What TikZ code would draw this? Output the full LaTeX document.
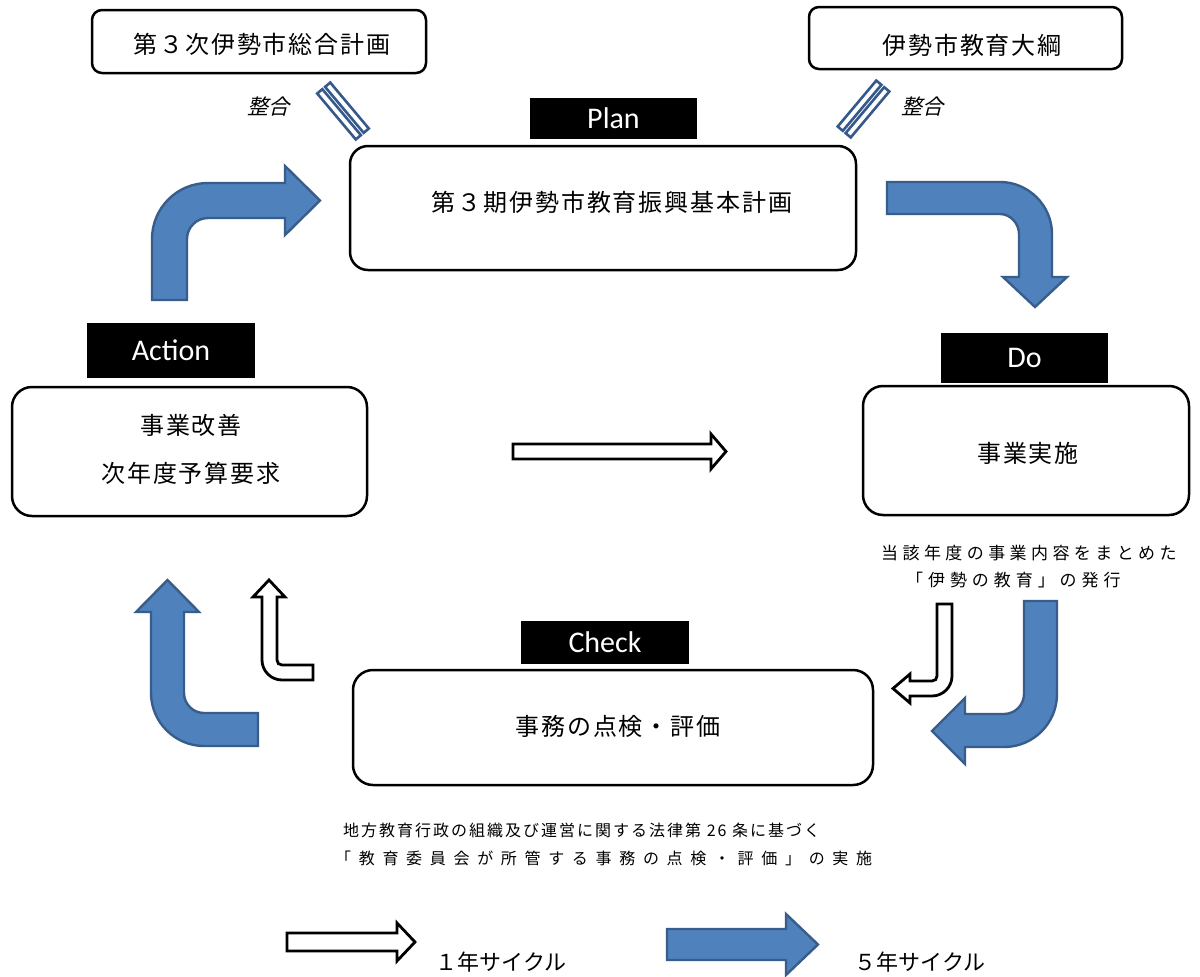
\documentclass[tikz,border=0pt]{standalone}
\usepackage{fontspec}
\newfontfamily\jp{Noto Sans CJK JP}
\newfontfamily\jpit{Noto Sans CJK JP}[FakeSlant=0.25]
\newfontfamily\lat{Carlito}
\definecolor{bfill}{HTML}{4F81BD}
\definecolor{bline}{HTML}{385D8A}
\definecolor{mline}{HTML}{34598A}
\begin{document}
\begin{tikzpicture}[x=1pt,y=-1pt,
  box/.style={draw=black, line width=2.5pt, fill=white, inner sep=0pt},
  lab/.style={fill=black, text=white, inner sep=0pt, font=\lat\fontsize{30}{30}\selectfont},
  jpt/.style={inner sep=0pt, align=center, font=\jp\addfontfeature{LetterSpace=8}\fontsize{24}{48}\selectfont},
  bluearrow/.style={fill=bfill, draw=bline, line width=2.4pt},
  whitearrow/.style={fill=white, draw=black, line width=2.8pt},
  bar/.style={fill=white, draw=mline, line width=2.6pt}]
\fill[white] (0,0) rectangle (1200,977);
\useasboundingbox (0,0) rectangle (1200,977);

% boxes
\node[box, rounded corners=10pt, minimum width=334pt, minimum height=63pt] (sogo) at (259,41.5) {};
\node[box, rounded corners=10pt, minimum width=313pt, minimum height=62pt] (taiko) at (965.5,38) {};
\node[box, rounded corners=18pt, minimum width=506pt, minimum height=124pt] (plan) at (603,208) {};
\node[box, rounded corners=20pt, minimum width=355pt, minimum height=129pt] (action) at (189.5,451.5) {};
\node[box, rounded corners=20pt, minimum width=326pt, minimum height=129pt] (do) at (1026,450.5) {};
\node[box, rounded corners=20pt, minimum width=520pt, minimum height=115pt] (check) at (613,727.5) {};

% black labels
\node[lab, minimum width=167pt, minimum height=41pt] (planL) at (613.5,118.5) {Plan};
\node[lab, minimum width=168pt, minimum height=55pt] (actionL) at (171,350.5) {Action};
\node[lab, minimum width=167pt, minimum height=50pt] (doL) at (1024.5,358) {Do};
\node[lab, minimum width=168pt, minimum height=43pt] (checkL) at (605,642.5) {Check};

% box texts
\node[jpt] (sogoT) at (262,44) {第３次伊勢市総合計画};
\node[jpt] (taikoT) at (972,45) {伊勢市教育大綱};
\node[jpt] (planT) at (612,202) {第３期伊勢市教育振興基本計画};
\node[jpt] (actionT) at (191,449) {事業改善\\次年度予算要求};
\node[jpt] (doT) at (1028,453) {事業実施};
\node[jpt] (checkT) at (618,726) {事務の点検・評価};

% alignment markers
\begin{scope}[shift={(343,111)}, rotate=-50]
  \draw[bar] (-30,-8.5) rectangle (30,-1.8);
  \draw[bar] (-30,1.8) rectangle (30,8.5);
\end{scope}
\begin{scope}[shift={(863.5,109)}, rotate=50]
  \draw[bar] (-30,-8.5) rectangle (30,-1.8);
  \draw[bar] (-30,1.8) rectangle (30,8.5);
\end{scope}
\node[inner sep=0pt, font=\jpit\fontsize{21}{21}\selectfont] (seigoL) at (268,107) {整合};
\node[inner sep=0pt, font=\jpit\fontsize{21}{21}\selectfont] (seigoR) at (922,107) {整合};

% blue 5-year arrows
\draw[bluearrow] (152,300) -- (152,239) .. controls (152,208) and (177,183) .. (208,183) -- (285,183) -- (285,166) -- (320,200.5) -- (285,235) -- (285,218) -- (208,218) .. controls (196.4,218) and (187,227.4) .. (187,239) -- (187,300) -- cycle;
\draw[bluearrow] (887,182) -- (1000,182) .. controls (1028.5,182) and (1052,205.5) .. (1052,234) -- (1052,277) -- (1067,277) -- (1035,307) -- (1003,277) -- (1019,277) -- (1019,234) .. controls (1019,223.5) and (1010.5,214) .. (1000,214) -- (887,214) -- cycle;
\draw[bluearrow] (1024,601) -- (1057,601) -- (1057,694) .. controls (1057,723.3) and (1033.3,747) .. (1004,747) -- (965,747) -- (965,764) -- (932,731) -- (965,698) -- (965,714) -- (1004,714) .. controls (1015,714) and (1024,705) .. (1024,694) -- cycle;
\draw[bluearrow] (258,713) -- (204,713) .. controls (193,713) and (184,704) .. (184,693) -- (184,612) -- (199,612) -- (167.5,580) -- (136,612) -- (151,612) -- (151,693) .. controls (151,722) and (175,746) .. (204,746) -- (258,746) -- cycle;

% white 1-year arrows
\draw[whitearrow] (513,444) -- (711,444) -- (711,434) -- (726,451.5) -- (711,469) -- (711,459) -- (513,459) -- cycle;
\draw[whitearrow] (937,604) -- (952,604) -- (952,676) .. controls (952,687) and (943,696) .. (932,696) -- (910,696) -- (910,703) -- (893,688.5) -- (910,674) -- (910,681) -- (932,681) .. controls (935,681) and (937,679) .. (937,676) -- cycle;
\draw[whitearrow] (313,665) -- (282,665) .. controls (279,665) and (277,663) .. (277,660) -- (277,597) -- (285,597) -- (269,580) -- (253,597) -- (262,597) -- (262,660) .. controls (262,671) and (271,680) .. (282,680) -- (313,680) -- cycle;

% annotations
\node[anchor=west, inner sep=0pt, font=\jp\addfontfeature{LetterSpace=26}\fontsize{17}{17}\selectfont] (hakko1) at (881,553) {当該年度の事業内容をまとめた};
\node[anchor=west, inner sep=0pt, font=\jp\addfontfeature{LetterSpace=29}\fontsize{17}{17}\selectfont] (hakko2) at (906,580) {「伊勢の教育」の発行};
\node[anchor=west, inner sep=0pt, font=\jp\addfontfeature{LetterSpace=12.5}\fontsize{16}{16}\selectfont] (hou1) at (343,830) {地方教育行政の組織及び運営に関する法律第 26 条に基づく};
\node[anchor=west, inner sep=0pt, font=\jp\addfontfeature{LetterSpace=48}\fontsize{16}{16}\selectfont] (hou2) at (335,858) {「教育委員会が所管する事務の点検・評価」の実施};

% legend
\draw[whitearrow] (287,933) -- (397,933) -- (397,923) -- (415,942) -- (397,961) -- (397,951) -- (287,951) -- cycle;
\draw[bluearrow] (667,929) -- (786,929) -- (786,914) -- (818,944.5) -- (786,975) -- (786,960) -- (667,960) -- cycle;
\node[inner sep=0pt, font=\jp\fontsize{22}{22}\selectfont] (y1) at (501,962) {１年サイクル};
\node[inner sep=0pt, font=\jp\fontsize{22}{22}\selectfont] (y5) at (920,962) {５年サイクル};
\end{tikzpicture}
\end{document}
